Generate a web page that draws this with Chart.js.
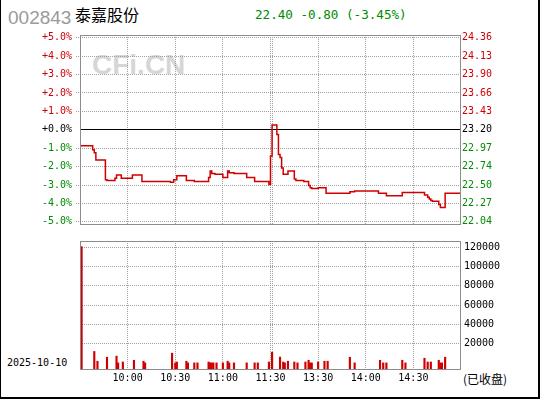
<!DOCTYPE html>
<html>
<head>
<meta charset="utf-8">
<script src="https://cdn.jsdelivr.net/npm/chart.js@4.4.1/dist/chart.umd.min.js"></script>
<style>
  html, body { margin:0; padding:0; background:#fff; }
  #wrap { position:relative; width:540px; height:400px; overflow:hidden; background:#fff; }
  #frame { position:absolute; left:0; top:0; width:537px; height:397px; border-left:1px solid #000; border-right:2px solid #000; border-bottom:2px solid #000; }
  .txt { position:absolute; white-space:nowrap; }
  canvas { position:absolute; left:0; }
</style>
</head>
<body>
<div id="wrap">
  <div id="frame"></div>
  <div class="txt" style="left:8px;top:7.5px;font:19px/19px 'Liberation Sans',Arial,sans-serif;color:#9a9a9a">002843</div>
  <div class="txt" style="left:75px;top:6px;font:16px/16px 'Noto Sans CJK SC',sans-serif;color:#000">泰嘉股份</div>
  <div class="txt" style="left:255px;top:8.4px;font:12.6px/13px 'DejaVu Sans Mono',monospace;color:#008c00">22.40 -0.80 (-3.45%)</div>
  <div class="txt" style="left:92px;top:51px;font:bold 28px/28px 'Liberation Sans',Arial,sans-serif;color:#d6d6d6">CFi.CN</div>
  <div class="txt" style="left:7px;top:358px;font:10px/10px 'DejaVu Sans Mono',monospace;color:#000">2025-10-10</div>
  <div class="txt" style="left:463px;top:372.6px;font:12px/12px 'Noto Sans CJK SC',sans-serif;color:#000">(已收盘)</div>
  <canvas id="priceChart" width="540" height="210" style="top:25px"></canvas>
  <canvas id="volChart" width="540" height="168" style="top:232px"></canvas>
</div>
<script>
// 昨收
const preClose = 23.20;

// 分时价格（变动时刻，分钟序号 0..240，11:30 与 13:00 合并为 120）
const priceMinutes = [0, 8, 9, 10, 16, 17, 22, 23, 26, 33, 39, 57, 59, 61, 67, 72, 81, 82, 83, 85, 90, 93, 94, 97, 105, 110, 119,
  120, 121, 124, 125, 126, 127, 128, 131, 135, 136, 141, 144, 145, 146, 150, 155, 170, 173, 188, 193, 203,
  217, 219, 220, 221, 222, 226, 227, 230, 240];
const prices = [23.00, 22.95, 22.91, 22.82, 22.57, 22.56, 22.59, 22.63, 22.59, 22.63, 22.55, 22.54, 22.57, 22.62, 22.56, 22.55, 22.60, 22.68, 22.65, 22.64, 22.60, 22.68, 22.66, 22.65, 22.60, 22.55, 22.51,
  22.87, 23.26, 23.14, 22.89, 22.85, 22.72, 22.64, 22.68, 22.58, 22.56, 22.55, 22.50, 22.47, 22.46, 22.47, 22.40, 22.42, 22.43, 22.40, 22.37, 22.41,
  22.38, 22.35, 22.33, 22.31, 22.30, 22.26, 22.22, 22.40, 22.40];

// 成交量（有成交的分钟）
const volMinutes = [1, 9, 11, 17, 23, 24, 27, 34, 40, 41, 58, 60, 61, 67, 68, 72, 74, 81, 82, 83, 84, 86, 90, 93, 94, 97, 105, 110, 112, 119,
  121, 126, 128, 129, 131, 135, 137, 142, 144, 145, 146, 150, 154, 156, 170, 173, 189, 191, 193, 203, 205, 217, 219, 221, 226, 227, 228, 230];
const volumes = [120500, 12200, 2100, 6200, 7400, 400, 1300, 3100, 2100, 400, 10400, 300, 1300, 2100, 400, 400, 400, 1300, 400, 400, 400, 400, 400, 2100, 400, 400, 400, 400, 400, 1300,
  11400, 6400, 1300, 400, 2100, 1300, 400, 1300, 3100, 400, 400, 1300, 2100, 2100, 6200, 400, 3100, 400, 400, 3100, 400, 5200, 1300, 1300, 3100, 400, 400, 6200];

// 刻度
const pctTicks = [5, 4, 3, 2, 1, 0, -1, -2, -3, -4, -5];
const pctLabels = ['+5.0%', '+4.0%', '+3.0%', '+2.0%', '+1.0%', '+0.0%', '-1.0%', '-2.0%', '-3.0%', '-4.0%', '-5.0%'];
const priceLabels = ['24.36', '24.13', '23.90', '23.66', '23.43', '23.20', '22.97', '22.74', '22.50', '22.27', '22.04'];
const volTicks = [20000, 40000, 60000, 80000, 100000, 120000];
const volLabels = ['20000', '40000', '60000', '80000', '100000', '120000'];
const timeTicks = [30, 60, 90, 120, 150, 180, 210];
const timeLabels = ['10:00', '10:30', '11:00', '11:30', '13:30', '14:00', '14:30'];
const gridMinutes = [30, 60, 90, 120, 121, 150, 180, 210];

const RED = '#d00000', GREEN = '#008c00', GRID = '#a0a0a0';
const PCT_MIN = -5.168, PCT_MAX = 5.147;
const VOL_MIN = -6970, VOL_MAX = 126360;
const monoFont = { family: "'DejaVu Sans Mono', monospace", size: 10 };

const toPct = p => (p / preClose - 1) * 100;
const tickColor = ctx => ctx.tick.value > 0 ? RED : (ctx.tick.value < 0 ? GREEN : '#000');

const boxPlugin = {
  id: 'box',
  afterDraw(chart) {
    const { ctx, chartArea: a } = chart;
    ctx.save();
    ctx.strokeStyle = '#8c8c8c';
    ctx.lineWidth = 1;
    ctx.strokeRect(a.left + 0.5, a.top + 0.5, a.right - a.left - 1, a.bottom - a.top - 1);
    ctx.restore();
  }
};

const xGrid = (showLabels) => ({
  type: 'linear', min: 0, max: 240, offset: false,
  afterBuildTicks: s => { s.ticks = gridMinutes.map(v => ({ value: v })); },
  afterFit: s => { s.height = showLabels ? 30 : 0; },
  grid: { color: GRID, drawTicks: false, offset: false },
  border: { display: false, dash: [1, 1] },
  ticks: {
    display: showLabels, autoSkip: false, maxRotation: 0, padding: 2,
    font: monoFont, color: '#000',
    callback: v => { const i = timeTicks.indexOf(v); return i >= 0 ? timeLabels[i] : ''; }
  }
});

new Chart(document.getElementById('priceChart'), {
  type: 'line',
  data: {
    datasets: [{
      data: priceMinutes.map((m, i) => ({ x: m, y: toPct(prices[i]) })),
      borderColor: RED, borderWidth: 1.5, pointRadius: 0, stepped: true, fill: false
    }]
  },
  options: {
    responsive: false, animation: false,
    layout: { padding: { top: 7, bottom: 7, left: 0, right: 0 } },
    plugins: { legend: { display: false }, tooltip: { enabled: false } },
    scales: {
      x: xGrid(false),
      y: {
        position: 'left', min: PCT_MIN, max: PCT_MAX,
        afterBuildTicks: s => { s.ticks = pctTicks.slice().reverse().map(v => ({ value: v })); },
        afterFit: s => { s.width = 80; },
        grid: {
          color: c => c.tick && c.tick.value === 0 ? '#000' : GRID,
          tickColor: c => c.tick && c.tick.value === 0 ? 'rgba(0,0,0,0)' : GRID,
          tickLength: 4, tickBorderDash: [1, 1]
        },
        border: { display: false, dash: c => c.tick && c.tick.value === 0 ? [] : [1, 1] },
        ticks: {
          padding: 4, font: monoFont, color: tickColor,
          callback: v => pctLabels[pctTicks.indexOf(v)]
        }
      },
      y2: {
        position: 'right', min: PCT_MIN, max: PCT_MAX,
        afterBuildTicks: s => { s.ticks = pctTicks.slice().reverse().map(v => ({ value: v })); },
        afterFit: s => { s.width = 79; },
        grid: { display: false, drawTicks: false },
        border: { display: false },
        ticks: {
          padding: 1, font: monoFont, color: tickColor,
          callback: v => priceLabels[pctTicks.indexOf(v)]
        }
      }
    }
  },
  plugins: [boxPlugin]
});

new Chart(document.getElementById('volChart'), {
  type: 'bar',
  data: {
    datasets: [{
      data: volMinutes.map((m, i) => ({ x: m, y: volumes[i] })),
      backgroundColor: RED, borderWidth: 0, barThickness: 1.5, base: VOL_MIN
    }]
  },
  options: {
    responsive: false, animation: false,
    layout: { padding: { top: 6, bottom: 0, left: 80, right: 0 } },
    plugins: { legend: { display: false }, tooltip: { enabled: false } },
    scales: {
      x: xGrid(true),
      y: {
        position: 'right', min: VOL_MIN, max: VOL_MAX,
        afterBuildTicks: s => { s.ticks = volTicks.map(v => ({ value: v })); },
        afterFit: s => { s.width = 79; },
        grid: { color: GRID, drawTicks: false },
        border: { display: false, dash: [1, 1] },
        ticks: {
          padding: 3, font: monoFont, color: '#000',
          callback: v => volLabels[volTicks.indexOf(v)]
        }
      }
    }
  },
  plugins: [boxPlugin]
});
</script>
</body>
</html>
